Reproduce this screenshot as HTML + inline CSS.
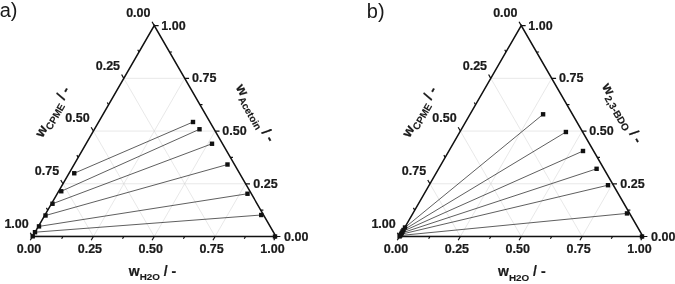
<!DOCTYPE html>
<html><head><meta charset="utf-8"><title>Ternary diagrams</title>
<style>
html,body{margin:0;padding:0;background:#fff}
svg{display:block}
text{font-family:"Liberation Sans",Arial,sans-serif;font-weight:bold;font-size:12.5px;fill:#1a1a1a;stroke:#1a1a1a;stroke-width:0.22px}
text.t{font-size:14px}
text.t .s{font-size:9.9px;stroke-width:0.12px}
text.p{font-weight:normal;font-size:20px;stroke:none}
</style></head><body>
<svg width="675" height="284" viewBox="0 0 675 284">
<rect width="675" height="284" fill="#fff"/>
<text class="p" x="-0.3" y="17.4">a)</text>
<text class="p" x="366.8" y="18">b)</text>
<path d="M62.94 183.78L245.56 183.78 M93.38 236.5L184.69 78.34 M215.12 236.5L123.81 78.34 M93.38 131.06L215.12 131.06 M154.25 236.5L215.12 131.06 M154.25 236.5L93.38 131.06 M123.81 78.34L184.69 78.34 M215.12 236.5L245.56 183.78 M93.38 236.5L62.94 183.78" stroke="#d4d4d4" stroke-width="0.55" fill="none"/>
<path d="M74.25 173.25L193 122 M61.25 191.25L199.5 129.25 M52.5 203.75L212 143.75 M45.5 215.5L227.5 164.5 M39 226.4L247.5 193.75 M35 232.2L261.25 215 M32.7 236.3L275 236.5" stroke="#1a1a1a" stroke-width="0.7" fill="none"/>
<path d="M32.5 236.5L154.25 25.62L276 236.5Z" stroke="#111" stroke-width="1.5" fill="none" stroke-linejoin="miter"/>
<path d="M154.25 25.62L152.05 21.81 M276 236.5L280.4 236.5 M32.5 236.5L30.3 240.31 M139.03 51.98L137.73 49.73 M260.78 210.14L263.38 210.14 M62.94 236.5L61.64 238.75 M123.81 78.34L121.61 74.53 M245.56 183.78L249.96 183.78 M93.38 236.5L91.17 240.31 M108.59 104.7L107.29 102.45 M230.34 157.42L232.94 157.42 M123.81 236.5L122.51 238.75 M93.38 131.06L91.17 127.25 M215.12 131.06L219.53 131.06 M154.25 236.5L152.05 240.31 M78.16 157.42L76.86 155.17 M199.91 104.7L202.51 104.7 M184.69 236.5L183.39 238.75 M62.94 183.78L60.74 179.97 M184.69 78.34L189.09 78.34 M215.12 236.5L212.93 240.31 M47.72 210.14L46.42 207.89 M169.47 51.98L172.07 51.98 M245.56 236.5L244.26 238.75 M32.5 236.5L30.3 232.69 M154.25 25.62L158.65 25.62 M276 236.5L273.8 240.31" stroke="#111" stroke-width="1.2" fill="none"/>
<rect x="72.05" y="171.05" width="4.4" height="4.4" fill="#111"/>
<rect x="59.05" y="189.05" width="4.4" height="4.4" fill="#111"/>
<rect x="50.3" y="201.55" width="4.4" height="4.4" fill="#111"/>
<rect x="43.3" y="213.3" width="4.4" height="4.4" fill="#111"/>
<rect x="36.8" y="224.2" width="4.4" height="4.4" fill="#111"/>
<rect x="32.8" y="230" width="4.4" height="4.4" fill="#111"/>
<rect x="30.5" y="234.1" width="4.4" height="4.4" fill="#111"/>
<rect x="190.8" y="119.8" width="4.4" height="4.4" fill="#111"/>
<rect x="197.3" y="127.05" width="4.4" height="4.4" fill="#111"/>
<rect x="209.8" y="141.55" width="4.4" height="4.4" fill="#111"/>
<rect x="225.3" y="162.3" width="4.4" height="4.4" fill="#111"/>
<rect x="245.3" y="191.55" width="4.4" height="4.4" fill="#111"/>
<rect x="259.05" y="212.8" width="4.4" height="4.4" fill="#111"/>
<rect x="272.8" y="234.3" width="4.4" height="4.4" fill="#111"/>
<text x="138.35" y="16.92" text-anchor="middle">0.00</text>
<text x="284" y="240.5">0.00</text>
<text x="29" y="252.5" text-anchor="middle">0.00</text>
<text x="107.91" y="69.64" text-anchor="middle">0.25</text>
<text x="253.36" y="187.78">0.25</text>
<text x="89.88" y="252.5" text-anchor="middle">0.25</text>
<text x="77.47" y="122.36" text-anchor="middle">0.50</text>
<text x="222.32" y="135.06">0.50</text>
<text x="150.75" y="252.5" text-anchor="middle">0.50</text>
<text x="47.04" y="175.08" text-anchor="middle">0.75</text>
<text x="192.09" y="82.34">0.75</text>
<text x="211.62" y="252.5" text-anchor="middle">0.75</text>
<text x="16.6" y="227.8" text-anchor="middle">1.00</text>
<text x="161.25" y="29.62">1.00</text>
<text x="272.5" y="252.5" text-anchor="middle">1.00</text>
<text class="t" transform="translate(152.5 276.2) rotate(0)" text-anchor="middle">w<tspan class="s" dx="0" dy="4.2">H2O</tspan><tspan dy="-4.2"> / -</tspan></text>
<text class="t" transform="translate(56.4 114.1) rotate(-60)" text-anchor="middle">w<tspan class="s" dx="0" dy="3.7">CPME</tspan><tspan dy="-3.7"> / -</tspan></text>
<text class="t" transform="translate(251.5 115.3) rotate(60)" text-anchor="middle">w<tspan class="s" dx="0.6" dy="3.7">Acetoin</tspan><tspan dy="-3.7"> / -</tspan></text>
<path d="M429.94 183.78L612.56 183.78 M460.38 236.5L551.69 78.34 M582.12 236.5L490.81 78.34 M460.38 131.06L582.12 131.06 M521.25 236.5L582.12 131.06 M521.25 236.5L460.38 131.06 M490.81 78.34L551.69 78.34 M582.12 236.5L612.56 183.78 M460.38 236.5L429.94 183.78" stroke="#d4d4d4" stroke-width="0.55" fill="none"/>
<path d="M405 227.5L543.1 114.3 M403.5 230L565.9 132 M402.5 231.5L583 151 M401.7 233L596.6 168.8 M401 234.3L608 185.2 M400.2 235.5L627 213.4 M399.6 236.4L642 236.5" stroke="#1a1a1a" stroke-width="0.7" fill="none"/>
<path d="M399.5 236.5L521.25 25.62L643 236.5Z" stroke="#111" stroke-width="1.5" fill="none" stroke-linejoin="miter"/>
<path d="M521.25 25.62L519.05 21.81 M643 236.5L647.4 236.5 M399.5 236.5L397.3 240.31 M506.03 51.98L504.73 49.73 M627.78 210.14L630.38 210.14 M429.94 236.5L428.64 238.75 M490.81 78.34L488.61 74.53 M612.56 183.78L616.96 183.78 M460.38 236.5L458.18 240.31 M475.59 104.7L474.29 102.45 M597.34 157.42L599.94 157.42 M490.81 236.5L489.51 238.75 M460.38 131.06L458.18 127.25 M582.12 131.06L586.52 131.06 M521.25 236.5L519.05 240.31 M445.16 157.42L443.86 155.17 M566.91 104.7L569.51 104.7 M551.69 236.5L550.39 238.75 M429.94 183.78L427.74 179.97 M551.69 78.34L556.09 78.34 M582.12 236.5L579.92 240.31 M414.72 210.14L413.42 207.89 M536.47 51.98L539.07 51.98 M612.56 236.5L611.26 238.75 M399.5 236.5L397.3 232.69 M521.25 25.62L525.65 25.62 M643 236.5L640.8 240.31" stroke="#111" stroke-width="1.2" fill="none"/>
<rect x="402.8" y="225.3" width="4.4" height="4.4" fill="#111"/>
<rect x="401.3" y="227.8" width="4.4" height="4.4" fill="#111"/>
<rect x="400.3" y="229.3" width="4.4" height="4.4" fill="#111"/>
<rect x="399.5" y="230.8" width="4.4" height="4.4" fill="#111"/>
<rect x="398.8" y="232.1" width="4.4" height="4.4" fill="#111"/>
<rect x="398" y="233.3" width="4.4" height="4.4" fill="#111"/>
<rect x="397.4" y="234.2" width="4.4" height="4.4" fill="#111"/>
<rect x="540.9" y="112.1" width="4.4" height="4.4" fill="#111"/>
<rect x="563.7" y="129.8" width="4.4" height="4.4" fill="#111"/>
<rect x="580.8" y="148.8" width="4.4" height="4.4" fill="#111"/>
<rect x="594.4" y="166.6" width="4.4" height="4.4" fill="#111"/>
<rect x="605.8" y="183" width="4.4" height="4.4" fill="#111"/>
<rect x="624.8" y="211.2" width="4.4" height="4.4" fill="#111"/>
<rect x="639.8" y="234.3" width="4.4" height="4.4" fill="#111"/>
<text x="505.35" y="16.92" text-anchor="middle">0.00</text>
<text x="651" y="240.5">0.00</text>
<text x="396" y="252.5" text-anchor="middle">0.00</text>
<text x="474.91" y="69.64" text-anchor="middle">0.25</text>
<text x="620.36" y="187.78">0.25</text>
<text x="456.88" y="252.5" text-anchor="middle">0.25</text>
<text x="444.48" y="122.36" text-anchor="middle">0.50</text>
<text x="589.33" y="135.06">0.50</text>
<text x="517.75" y="252.5" text-anchor="middle">0.50</text>
<text x="414.04" y="175.08" text-anchor="middle">0.75</text>
<text x="559.09" y="82.34">0.75</text>
<text x="578.62" y="252.5" text-anchor="middle">0.75</text>
<text x="383.6" y="227.8" text-anchor="middle">1.00</text>
<text x="528.25" y="29.62">1.00</text>
<text x="639.5" y="252.5" text-anchor="middle">1.00</text>
<text class="t" transform="translate(521.8 276.4) rotate(0)" text-anchor="middle">w<tspan class="s" dx="0" dy="4.2">H2O</tspan><tspan dy="-4.2"> / -</tspan></text>
<text class="t" transform="translate(423.4 114.1) rotate(-60)" text-anchor="middle">w<tspan class="s" dx="0" dy="3.7">CPME</tspan><tspan dy="-3.7"> / -</tspan></text>
<text class="t" transform="translate(618.5 115.3) rotate(60)" text-anchor="middle">w<tspan class="s" dx="0.6" dy="3.7">2,3-BDO</tspan><tspan dy="-3.7"> / -</tspan></text>
</svg>
</body></html>
